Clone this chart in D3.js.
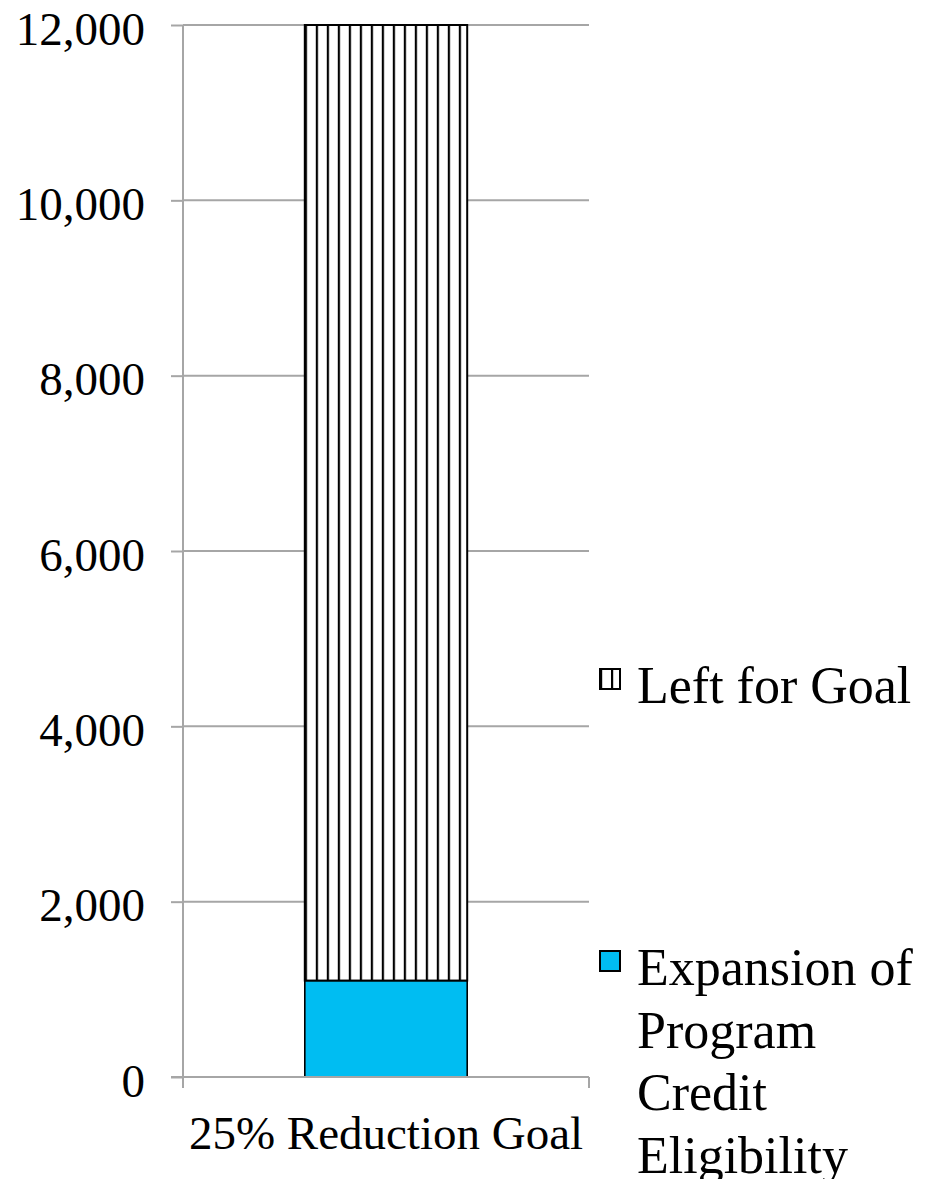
<!DOCTYPE html>
<html>
<head>
<meta charset="utf-8">
<script src="https://cdn.jsdelivr.net/npm/d3@7"></script>
<style>
  html, body { margin: 0; padding: 0; background: #fff; }
  svg { display: block; }
  text { font-family: "Liberation Serif", "Times New Roman", serif; fill: #000; }
</style>
</head>
<body>
<script>
const categories = ["25% Reduction Goal"];
const seriesNames = ["Expansion of Program Credit Eligibility", "Left for Goal"];
const expansionValues = [1100];
const leftForGoalValues = [10900];
const yTicks = [0, 2000, 4000, 6000, 8000, 10000, 12000];

const W = 932, H = 1179;
const m = { left: 183, right: 343, top: 25, bottom: 102 };
const plotW = W - m.left - m.right;   // 406
const plotH = H - m.top - m.bottom;   // 1052

const svg = d3.select("body").append("svg").attr("width", W).attr("height", H);
svg.append("rect").attr("width", W).attr("height", H).attr("fill", "#fff");

const x = d3.scaleBand().domain(categories).range([m.left, m.left + plotW]).paddingInner(0.6).paddingOuter(0.3);
const y = d3.scaleLinear().domain([0, 12000]).range([m.top + plotH, m.top]);

const defs = svg.append("defs");
const bw = x.bandwidth();
function makePattern(id, x0) {
  const p = defs.append("pattern").attr("id", id).attr("patternUnits", "userSpaceOnUse")
    .attr("x", x0).attr("y", 0).attr("width", 11).attr("height", 20);
  p.append("rect").attr("width", 11).attr("height", 20).attr("fill", "#fff");
  p.append("rect").attr("x", 0).attr("width", 2.2).attr("height", 20).attr("fill", "#000");
}
makePattern("vstripe", x(categories[0]));

const gridColor = "#a6a6a6";
// gridlines
svg.append("g").selectAll("line").data(yTicks.filter(d => d > 0)).join("line")
  .attr("x1", m.left).attr("x2", m.left + plotW)
  .attr("y1", d => y(d)).attr("y2", d => y(d))
  .attr("stroke", gridColor).attr("stroke-width", 2);

// y axis
const yAxis = svg.append("g").attr("transform", `translate(${m.left},0)`)
  .call(d3.axisLeft(y).tickValues(yTicks).tickSize(12).tickPadding(26).tickFormat(d3.format(",")));
yAxis.select(".domain").remove();
yAxis.selectAll(".tick line").attr("stroke", gridColor).attr("stroke-width", 2);
yAxis.selectAll(".tick text").attr("font-size", 47).attr("dy", null).attr("y", 19)
  .attr("font-family", "'Liberation Serif', 'Times New Roman', serif");
svg.append("line").attr("x1", m.left).attr("x2", m.left)
  .attr("y1", m.top).attr("y2", y(0) + 11).attr("stroke", gridColor).attr("stroke-width", 2);

// bars
const bars = svg.append("g");
bars.selectAll("rect.exp").data(categories).join("rect").attr("class", "exp")
  .attr("x", d => x(d)).attr("width", bw)
  .attr("y", (d, i) => y(expansionValues[i])).attr("height", (d, i) => y(0) - y(expansionValues[i]))
  .attr("fill", "#00BDF2").attr("stroke", "#000").attr("stroke-width", 1.6);
bars.selectAll("rect.left").data(categories).join("rect").attr("class", "left")
  .attr("x", d => x(d)).attr("width", bw)
  .attr("y", (d, i) => y(expansionValues[i] + leftForGoalValues[i]))
  .attr("height", (d, i) => y(expansionValues[i]) - y(expansionValues[i] + leftForGoalValues[i]))
  .attr("fill", "url(#vstripe)").attr("stroke", "#000").attr("stroke-width", 2);

// x axis
svg.append("line").attr("x1", m.left - 12).attr("x2", m.left + plotW)
  .attr("y1", y(0)).attr("y2", y(0)).attr("stroke", gridColor).attr("stroke-width", 2);
svg.append("g").selectAll("line").data([m.left, m.left + plotW]).join("line")
  .attr("x1", d => d).attr("x2", d => d).attr("y1", y(0)).attr("y2", y(0) + 11)
  .attr("stroke", gridColor).attr("stroke-width", 2);
svg.append("g").selectAll("text").data(categories).join("text")
  .attr("x", d => x(d) + bw / 2).attr("y", 1149).attr("text-anchor", "middle")
  .attr("font-size", 47).text(d => d);

// legend
const legend = svg.append("g");
const legItems = [
  { name: seriesNames[1], fill: "url(#vstripe2)", top: 703, lines: ["Left for Goal"] },
  { name: seriesNames[0], fill: "#00BDF2", top: 985, lines: ["Expansion of", "Program", "Credit", "Eligibility"] }
];
makePattern("vstripe2", 600);
legItems.forEach(it => {
  legend.append("rect").attr("x", 600).attr("y", it.top - 34).attr("width", 20).attr("height", 20)
    .attr("fill", it.fill).attr("stroke", "#000").attr("stroke-width", 2);
  const t = legend.append("text").attr("x", 637).attr("y", it.top).attr("font-size", 52);
  it.lines.forEach((l, i) => t.append("tspan").attr("x", 637).attr("dy", i === 0 ? 0 : 62.5).text(l));
});
</script>
</body>
</html>
